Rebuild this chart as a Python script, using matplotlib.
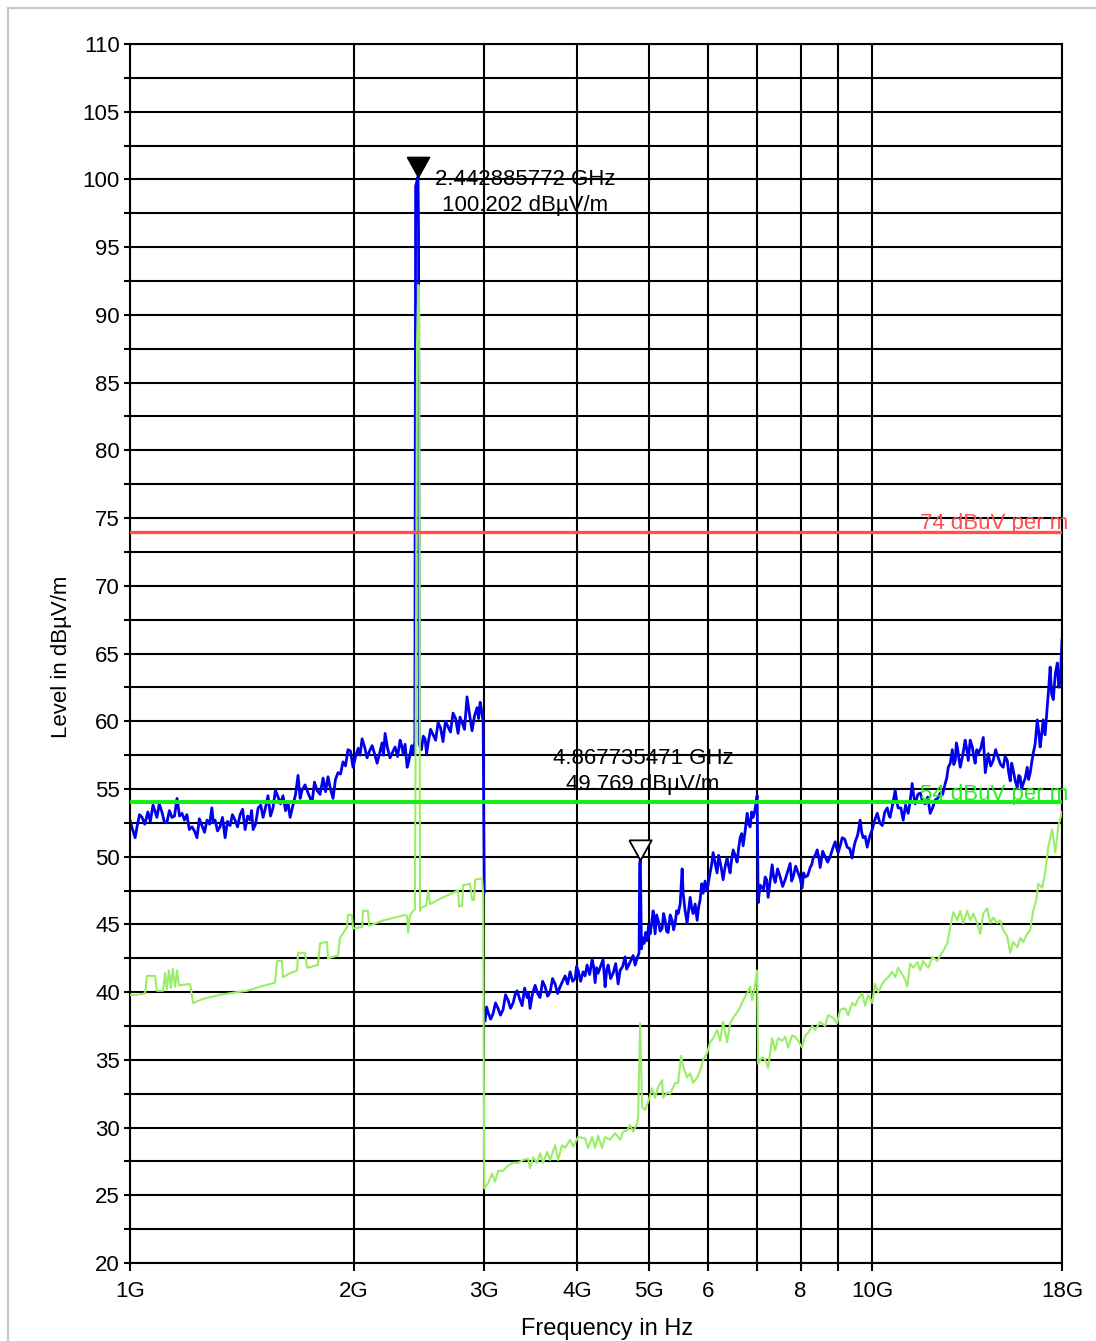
import matplotlib
matplotlib.use('Agg')
import matplotlib.pyplot as plt
from matplotlib.patches import Rectangle

plt.rcParams['font.family'] = ['Liberation Sans', 'DejaVu Sans']

# peak detector, 1 - 3 GHz sweep (GHz / dBuV/m)
freq_pk_lo = [1.000, 1.008, 1.016, 1.022, 1.030, 1.038, 1.047, 1.057, 1.065, 1.074,
              1.080, 1.087, 1.095, 1.104, 1.112, 1.121, 1.130, 1.139, 1.148, 1.157,
              1.166, 1.175, 1.184, 1.193, 1.202, 1.212, 1.221, 1.231, 1.240, 1.250,
              1.260, 1.270, 1.280, 1.289, 1.295, 1.302, 1.312, 1.322, 1.332, 1.343,
              1.353, 1.364, 1.374, 1.385, 1.396, 1.407, 1.418, 1.429, 1.440, 1.451,
              1.458, 1.465, 1.476, 1.488, 1.500, 1.511, 1.522, 1.534, 1.546, 1.558,
              1.570, 1.583, 1.595, 1.607, 1.620, 1.632, 1.643, 1.658, 1.671, 1.684,
              1.695, 1.705, 1.721, 1.740, 1.759, 1.772, 1.786, 1.803, 1.820, 1.834,
              1.848, 1.862, 1.877, 1.891, 1.906, 1.921, 1.936, 1.951, 1.966, 1.981,
              1.997, 2.013, 2.029, 2.041, 2.054, 2.070, 2.086, 2.102, 2.119, 2.135,
              2.152, 2.168, 2.185, 2.195, 2.206, 2.223, 2.240, 2.257, 2.275, 2.293,
              2.311, 2.322, 2.333, 2.347, 2.362, 2.373, 2.384, 2.395, 2.406, 2.419,
              2.425, 2.443, 2.447, 2.452, 2.469, 2.483, 2.497, 2.509, 2.521, 2.540,
              2.560, 2.580, 2.600, 2.620, 2.640, 2.660, 2.681, 2.702, 2.723, 2.745,
              2.766, 2.783, 2.801, 2.822, 2.844, 2.866, 2.889, 2.911, 2.934, 2.948,
              2.962, 2.976, 2.990, 3.000]
lvl_pk_lo = [52.7, 52.0, 51.4, 52.2, 53.1, 52.9, 52.4, 53.3, 52.6, 53.8,
             53.4, 52.9, 53.9, 53.3, 52.6, 52.5, 53.4, 52.9, 53.0, 54.3,
             53.0, 53.2, 52.7, 53.1, 52.0, 52.2, 51.9, 51.4, 52.8, 52.3,
             51.8, 52.7, 52.4, 53.6, 52.5, 52.7, 51.9, 52.2, 52.9, 51.4,
             52.6, 52.3, 53.1, 52.7, 52.2, 53.1, 53.5, 52.0, 53.0, 52.7,
             53.4, 52.0, 52.4, 53.6, 53.8, 52.9, 53.6, 54.5, 53.0, 53.6,
             54.9, 54.4, 53.9, 54.5, 53.4, 54.0, 52.9, 53.8, 54.6, 56.0,
             54.3, 54.9, 55.3, 54.6, 54.0, 55.5, 54.9, 54.6, 55.8, 54.8,
             55.9, 55.0, 54.3, 55.7, 56.2, 56.1, 57.0, 56.7, 57.9, 57.8,
             56.6, 57.4, 58.0, 57.5, 58.7, 58.1, 57.3, 57.8, 58.2, 57.6,
             56.9, 57.6, 58.4, 57.5, 59.1, 58.0, 57.3, 57.7, 58.1, 57.4,
             58.6, 58.2, 57.6, 58.3, 56.6, 57.0, 57.6, 58.2, 57.6, 58.5,
             99.5, 100.2, 96.0, 58.3, 57.9, 58.9, 58.7, 57.6, 58.4, 59.4,
             59.0, 58.6, 59.9, 59.5, 58.5, 60.0, 59.6, 59.2, 60.6, 60.2,
             59.1, 60.3, 59.9, 59.4, 61.8, 60.5, 59.3, 60.4, 61.0, 60.2,
             61.4, 60.8, 59.9, 47.4]

# peak detector, 3 - 18 GHz sweep
freq_pk_hi = [3.008, 3.022, 3.036, 3.060, 3.083, 3.107, 3.131, 3.155, 3.180, 3.205,
              3.230, 3.255, 3.281, 3.301, 3.322, 3.348, 3.374, 3.400, 3.427, 3.442,
              3.458, 3.485, 3.513, 3.540, 3.567, 3.595, 3.623, 3.651, 3.680, 3.708,
              3.737, 3.766, 3.796, 3.825, 3.855, 3.885, 3.915, 3.946, 3.977, 3.995,
              4.014, 4.045, 4.077, 4.102, 4.127, 4.160, 4.192, 4.211, 4.231, 4.250,
              4.270, 4.303, 4.337, 4.364, 4.385, 4.405, 4.440, 4.474, 4.510, 4.544,
              4.572, 4.608, 4.644, 4.665, 4.686, 4.723, 4.760, 4.790, 4.820, 4.849,
              4.858, 4.868, 4.875, 4.885, 4.905, 4.925, 4.948, 4.970, 4.994, 5.018,
              5.040, 5.065, 5.096, 5.120, 5.145, 5.176, 5.208, 5.232, 5.257, 5.281,
              5.306, 5.340, 5.372, 5.397, 5.423, 5.448, 5.474, 5.508, 5.542, 5.559,
              5.593, 5.628, 5.655, 5.681, 5.708, 5.734, 5.770, 5.806, 5.833, 5.860,
              5.888, 5.915, 5.950, 5.988, 6.016, 6.044, 6.072, 6.101, 6.139, 6.177,
              6.206, 6.235, 6.264, 6.293, 6.333, 6.372, 6.401, 6.431, 6.461, 6.492,
              6.532, 6.572, 6.603, 6.634, 6.665, 6.696, 6.738, 6.780, 6.811, 6.843,
              6.875, 6.907, 6.950, 6.993, 7.015, 7.058, 7.102, 7.135, 7.169, 7.202,
              7.236, 7.281, 7.326, 7.360, 7.395, 7.452, 7.510, 7.569, 7.628, 7.687,
              7.747, 7.783, 7.820, 7.881, 7.942, 7.991, 8.041, 8.078, 8.116, 8.180,
              8.243, 8.282, 8.322, 8.373, 8.424, 8.463, 8.503, 8.569, 8.635, 8.702,
              8.770, 8.839, 8.908, 8.950, 8.991, 9.047, 9.103, 9.174, 9.245, 9.317,
              9.389, 9.433, 9.478, 9.552, 9.626, 9.671, 9.717, 9.777, 9.838, 9.915,
              9.992, 10.07, 10.15, 10.23, 10.31, 10.39, 10.47, 10.52, 10.56, 10.65,
              10.73, 10.78, 10.83, 10.92, 11.00, 11.08, 11.17, 11.24, 11.31, 11.37,
              11.42, 11.51, 11.60, 11.69, 11.78, 11.87, 11.96, 12.05, 12.15, 12.24,
              12.34, 12.43, 12.53, 12.59, 12.65, 12.73, 12.81, 12.87, 12.93, 12.97,
              13.01, 13.07, 13.13, 13.23, 13.33, 13.39, 13.46, 13.54, 13.63, 13.69,
              13.75, 13.82, 13.88, 13.99, 14.10, 14.19, 14.32, 14.43, 14.54, 14.65,
              14.77, 14.88, 15.00, 15.09, 15.19, 15.26, 15.33, 15.40, 15.47, 15.57,
              15.67, 15.74, 15.81, 15.88, 15.96, 16.06, 16.16, 16.23, 16.31, 16.38,
              16.46, 16.56, 16.67, 16.74, 16.82, 16.90, 16.98, 17.08, 17.19, 17.27,
              17.35, 17.43, 17.52, 17.63, 17.74, 17.82, 17.90, 18.00]
lvl_pk_hi = [37.9, 38.9, 38.5, 38.0, 38.4, 39.2, 38.8, 38.3, 38.7, 39.8,
             39.4, 38.8, 39.2, 39.8, 40.1, 39.5, 39.0, 40.3, 39.6, 39.9,
             38.8, 39.9, 40.5, 39.9, 39.6, 40.8, 40.4, 39.7, 40.0, 41.0,
             40.6, 39.9, 40.4, 40.8, 41.2, 40.6, 41.5, 40.8, 41.0, 41.9,
             41.6, 40.8, 41.5, 41.2, 42.0, 41.3, 42.4, 41.9, 40.7, 41.8,
             41.4, 41.9, 42.4, 40.4, 41.6, 42.0, 41.0, 41.4, 42.1, 40.6,
             41.6, 41.9, 42.6, 41.7, 41.9, 42.3, 42.7, 42.0, 42.5, 42.9,
             49.5, 49.77, 47.0, 43.2, 44.0, 43.6, 44.4, 43.8, 44.9, 44.3,
             45.0, 46.0, 44.3, 45.7, 45.3, 44.5, 44.7, 45.8, 45.3, 44.5,
             44.4, 45.7, 45.3, 44.6, 45.1, 46.0, 45.8, 46.5, 49.1, 47.3,
             46.0, 45.1, 46.1, 47.0, 46.2, 45.8, 46.5, 45.3, 46.3, 46.8,
             48.0, 47.3, 48.2, 47.5, 48.2, 48.8, 49.4, 50.3, 49.5, 48.8,
             50.1, 49.6, 49.0, 48.3, 49.3, 49.9, 49.3, 48.8, 49.8, 50.5,
             50.1, 49.6, 50.6, 51.4, 51.7, 50.8, 51.9, 53.2, 52.4, 52.2,
             53.3, 52.9, 53.5, 54.5, 46.6, 47.9, 47.7, 47.6, 48.5, 48.3,
             47.0, 48.2, 49.4, 48.5, 48.1, 49.1, 48.5, 47.8, 48.3, 48.9,
             49.5, 48.2, 48.5, 49.3, 48.8, 48.4, 47.7, 48.8, 48.5, 48.6,
             49.2, 49.4, 49.9, 50.1, 50.5, 50.0, 49.2, 50.4, 50.0, 49.6,
             50.0, 50.6, 51.1, 50.6, 50.3, 50.8, 51.4, 51.3, 50.7, 50.6,
             49.9, 50.6, 51.1, 51.6, 52.7, 51.8, 51.4, 51.5, 50.7, 51.5,
             52.0, 52.7, 53.2, 52.5, 52.3, 53.3, 53.6, 53.1, 52.9, 53.9,
             54.9, 54.1, 53.6, 53.6, 52.7, 53.8, 53.2, 54.1, 55.4, 54.4,
             53.9, 54.6, 54.7, 54.0, 53.9, 54.4, 53.2, 53.6, 54.2, 54.3,
             54.7, 54.6, 55.4, 55.8, 56.6, 56.9, 57.9, 56.8, 57.1, 58.4,
             58.1, 57.3, 56.6, 57.5, 58.6, 58.0, 57.1, 58.6, 58.1, 57.4,
             56.9, 57.9, 57.6, 58.0, 58.8, 56.2, 57.6, 56.7, 57.1, 57.9,
             57.3, 56.8, 56.6, 57.4, 57.1, 56.2, 55.6, 56.9, 56.4, 55.6,
             55.1, 56.0, 55.9, 55.0, 55.4, 55.8, 56.6, 55.7, 56.2, 56.9,
             57.6, 58.3, 60.1, 59.3, 58.1, 59.0, 60.1, 59.0, 61.0, 62.4,
             64.0, 62.0, 61.6, 63.5, 64.3, 62.5, 63.0, 66.0]

# average detector, whole range
freq_av = [1.000, 1.022, 1.048, 1.054, 1.081, 1.087, 1.108, 1.115, 1.121, 1.128,
           1.135, 1.142, 1.150, 1.157, 1.164, 1.205, 1.216, 1.254, 1.322, 1.394,
           1.438, 1.497, 1.568, 1.578, 1.602, 1.607, 1.643, 1.679, 1.684, 1.721,
           1.732, 1.791, 1.803, 1.842, 1.848, 1.906, 1.918, 1.960, 1.966, 1.990,
           1.997, 2.054, 2.060, 2.092, 2.099, 2.196, 2.347, 2.362, 2.369, 2.384,
           2.406, 2.420, 2.436, 2.446, 2.452, 2.458, 2.465, 2.505, 2.521, 2.536,
           2.616, 2.766, 2.775, 2.801, 2.810, 2.871, 2.889, 2.907, 2.916, 2.980,
           2.990, 3.000,
           3.036, 3.073, 3.102, 3.131, 3.180, 3.230, 3.281, 3.332, 3.384, 3.437,
           3.458, 3.491, 3.534, 3.567, 3.601, 3.646, 3.680, 3.737, 3.772, 3.819,
           3.855, 3.915, 3.952, 4.014, 4.102, 4.140, 4.192, 4.231, 4.270, 4.324,
           4.364, 4.432, 4.502, 4.572, 4.615, 4.673, 4.716, 4.760, 4.820, 4.835,
           4.865, 4.895, 4.941, 4.987, 5.049, 5.096, 5.145, 5.208, 5.224, 5.289,
           5.339, 5.423, 5.474, 5.524, 5.559, 5.628, 5.681, 5.734, 5.806, 5.860,
           5.915, 5.988, 6.044, 6.101, 6.177, 6.235, 6.293, 6.372, 6.431, 6.492,
           6.572, 6.634, 6.696, 6.780, 6.843, 6.886, 6.950, 6.993, 7.015, 7.102,
           7.169, 7.236, 7.326, 7.395, 7.464, 7.557, 7.628, 7.699, 7.795, 7.868,
           7.942, 8.041, 8.116, 8.192, 8.294, 8.372, 8.503, 8.635, 8.716, 8.852,
           8.963, 9.047, 9.188, 9.274, 9.389, 9.478, 9.566, 9.686, 9.776, 9.868,
           9.992, 10.08, 10.18, 10.31, 10.40, 10.50, 10.63, 10.73, 10.83, 10.97,
           11.07, 11.14, 11.24, 11.35, 11.49, 11.60, 11.70, 11.89, 12.04, 12.22,
           12.41, 12.61, 12.73, 12.85, 13.01, 13.13, 13.25, 13.42, 13.54, 13.67,
           13.84, 13.97, 14.10, 14.27, 14.41, 14.54, 14.72, 14.86, 15.00, 15.19,
           15.33, 15.47, 15.67, 15.81, 15.96, 16.16, 16.31, 16.46, 16.62, 16.72,
           16.93, 17.09, 17.25, 17.46, 17.63, 17.79, 18.00]
lvl_av = [39.8, 39.8, 39.9, 41.2, 41.2, 40.1, 40.1, 41.4, 40.2, 41.6,
          40.3, 41.7, 40.4, 41.6, 40.5, 40.6, 39.2, 39.5, 39.8, 40.0,
          40.1, 40.4, 40.7, 42.3, 42.3, 41.1, 41.4, 41.6, 42.9, 42.9,
          41.8, 42.0, 43.6, 43.7, 42.5, 42.7, 44.0, 44.8, 45.7, 45.7,
          44.7, 44.8, 46.0, 46.0, 44.9, 45.3, 45.7, 45.6, 44.4, 45.7,
          46.0, 46.1, 88.0, 92.2, 90.0, 46.0, 46.2, 46.4, 47.5, 46.5,
          46.9, 47.5, 46.3, 46.4, 47.9, 48.0, 46.8, 46.8, 48.3, 48.4,
          47.2, 25.5,
          25.9, 26.6, 26.0, 26.8, 26.8, 27.2, 27.4, 27.4, 27.6, 27.7,
          27.0, 27.8, 27.4, 28.1, 27.4, 28.2, 27.6, 28.7, 27.6, 28.7,
          28.5, 29.1, 28.6, 29.3, 29.2, 28.5, 29.3, 28.5, 29.4, 28.5,
          29.3, 29.1, 29.6, 29.1, 29.7, 29.8, 30.2, 29.7, 30.3, 30.8,
          37.7, 31.5, 31.3, 31.9, 32.9, 32.2, 33.0, 33.5, 32.2, 32.6,
          32.5, 33.3, 33.3, 35.3, 34.5, 33.7, 34.0, 33.3, 33.7, 34.2,
          35.0, 35.5, 36.3, 36.6, 37.2, 36.4, 37.8, 36.3, 37.7, 38.1,
          38.5, 38.9, 39.4, 39.9, 40.4, 39.4, 40.6, 41.6, 34.7, 35.2,
          35.0, 34.4, 36.6, 35.7, 36.6, 36.4, 36.7, 35.9, 36.8, 36.7,
          36.4, 35.9, 36.8, 37.0, 37.5, 37.2, 37.8, 37.5, 38.3, 38.1,
          37.7, 38.7, 38.8, 38.3, 39.2, 39.0, 39.5, 39.9, 39.0, 39.8,
          39.2, 40.6, 40.0, 40.6, 40.9, 41.1, 41.5, 41.1, 41.8, 41.3,
          40.9, 40.4, 42.1, 41.8, 42.2, 41.6, 42.3, 41.8, 42.6, 42.3,
          42.9, 43.6, 44.8, 45.9, 45.3, 46.0, 45.1, 46.0, 45.3, 45.8,
          45.1, 44.3, 45.8, 46.2, 45.1, 45.5, 45.1, 45.3, 44.6, 44.1,
          42.9, 43.7, 43.3, 44.0, 43.7, 44.3, 44.6, 46.0, 46.8, 48.0,
          47.7, 48.9, 50.7, 52.0, 50.3, 52.2, 53.3]

# limits and markers
limit_peak = 74
limit_avg = 54
mk1_freq, mk1_level = 2.442885772, 100.202
mk2_freq, mk2_level = 4.867735471, 49.769

xtick_pos = [1, 2, 3, 4, 5, 6, 7, 8, 9, 10, 18]
xtick_lbl = ['1G', '2G', '3G', '4G', '5G', '6', '', '8', '', '10G', '18G']
ytick_major = list(range(20, 111, 5))
ytick_minor = [v + 2.5 for v in range(20, 110, 5)]

fig = plt.figure(figsize=(10.96, 13.41), dpi=100)
ax = fig.add_axes([130 / 1096, 78 / 1341, 932 / 1096, 1219 / 1341])

ax.set_xscale('log')
ax.set_xlim(1, 18)
ax.set_ylim(20, 110)
ax.minorticks_off()
ax.set_xticks(xtick_pos)
ax.set_xticklabels(xtick_lbl)
ax.set_yticks(ytick_major)
ax.set_yticks(ytick_minor, minor=True)
ax.set_axisbelow(True)
ax.grid(True, which='both', color='black', lw=1.5)
ax.tick_params(axis='both', which='both', direction='out', width=1.5,
               color='black', labelsize=16)
ax.tick_params(axis='y', which='both', length=4.3, pad=3)
ax.tick_params(axis='x', which='both', length=5.8, pad=7)
for s in ax.spines.values():
    s.set_linewidth(1.5)

ax.plot(freq_pk_lo, lvl_pk_lo, color='#0000ee', lw=2.0, zorder=2)
ax.plot(freq_pk_hi, lvl_pk_hi, color='#0000ee', lw=2.0, zorder=2)
ax.plot(freq_av, lvl_av, color='#99ee66', lw=1.5, zorder=3)

ax.axhline(limit_peak, color='#ff5050', lw=2.4, zorder=4)
ax.axhline(limit_avg, color='#11ee11', lw=2.8, zorder=4)
ax.annotate('%d dBuV per m' % limit_peak, xy=(1, limit_peak),
            xycoords=('axes fraction', 'data'), xytext=(4.3, 2),
            textcoords='offset points', ha='right', va='baseline',
            color='#ff5050', fontsize=16, zorder=5, annotation_clip=False)
ax.annotate('%d dBuV per m' % limit_avg, xy=(1, limit_avg),
            xycoords=('axes fraction', 'data'), xytext=(4.3, 2),
            textcoords='offset points', ha='right', va='baseline',
            color='#22ee22', fontsize=16, zorder=5, annotation_clip=False)

# down-pointing triangle with its tip on the marked point
tri = [(-1, 1.8), (1, 1.8), (0, 0), (-1, 1.8)]
ax.plot(mk1_freq, mk1_level, marker=tri, ms=29, mfc='black', mec='black',
        ls='none', zorder=6, clip_on=False)
ax.plot(mk2_freq, mk2_level, marker=tri, ms=29, mfc='white', mec='black',
        mew=1.3, ls='none', zorder=6)
ax.annotate('%.9f GHz\n%.3f dBµV/m' % (mk1_freq, mk1_level),
            xy=(mk1_freq, mk1_level), xytext=(77, -11.5), textcoords='offset points',
            ha='center', va='center', fontsize=16, linespacing=1.3, zorder=7)
ax.annotate('%.9f GHz\n%.3f dBµV/m' % (mk2_freq, mk2_level),
            xy=(mk2_freq, mk2_level), xytext=(2, 63.5), textcoords='offset points',
            ha='center', va='center', fontsize=16, linespacing=1.3, zorder=7)

ax.set_xlabel('Frequency in Hz', fontsize=17)
ax.xaxis.set_label_coords(0.512, -0.045)
ax.set_ylabel('Level in dBµV/m', fontsize=16)
ax.yaxis.set_label_coords(-0.062, 0.497)

fig.add_artist(Rectangle((8 / 1096, -0.05), 1.2, 1.05 - 8 / 1341,
                         transform=fig.transFigure, fill=False,
                         ec='#c8c8c8', lw=1.5))

fig.savefig('out.png', dpi=100)
